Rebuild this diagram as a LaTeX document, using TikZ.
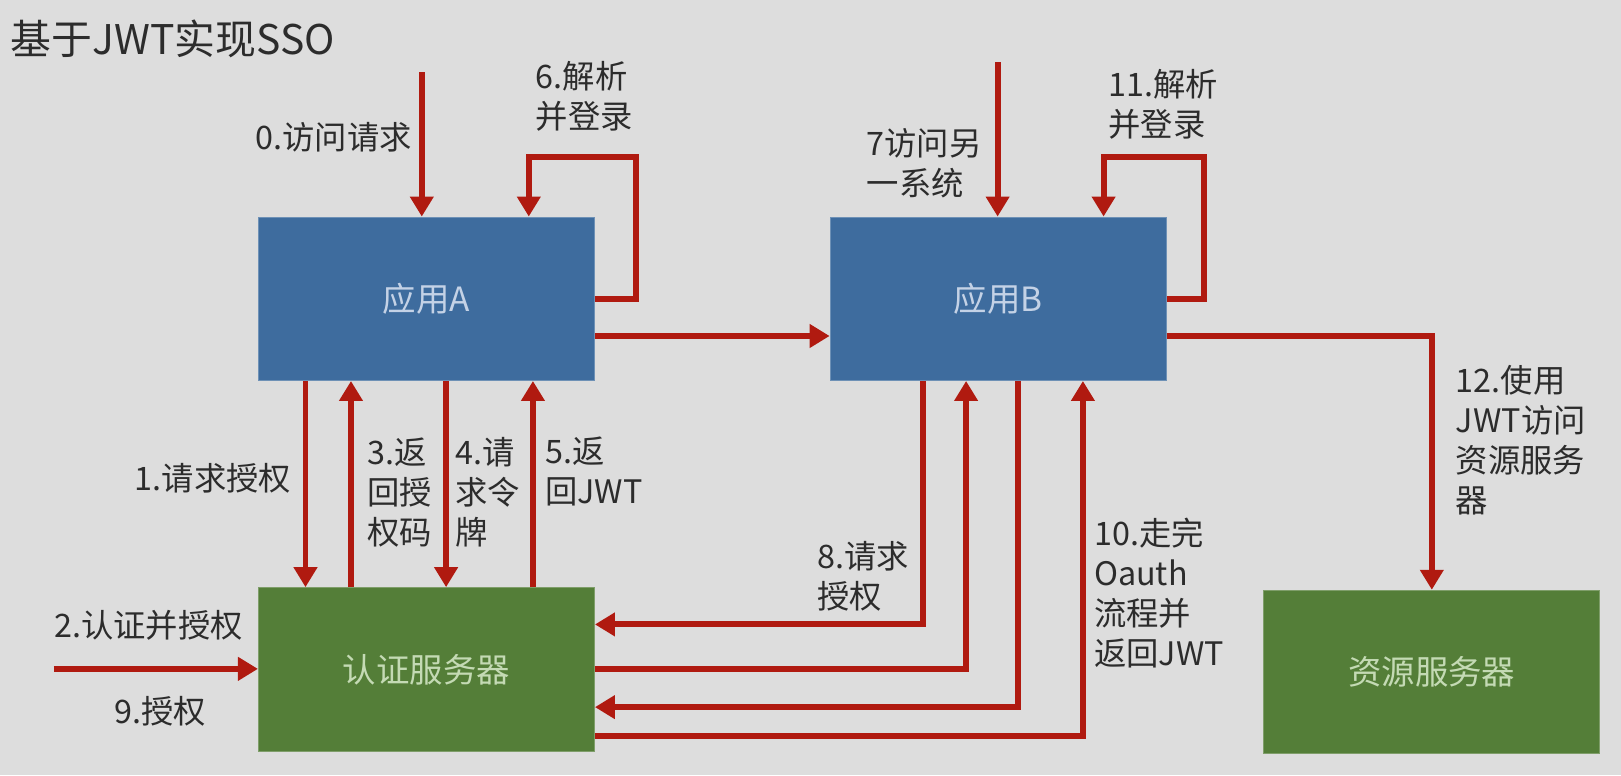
\documentclass[tikz,border=0pt]{standalone}
\usepackage{fontspec}
\setmainfont{Noto Sans CJK SC}
\usetikzlibrary{arrows.meta,calc,positioning}

\definecolor{bgGray}{RGB}{221,221,221}
\definecolor{appBlue}{RGB}{62,108,158}
\definecolor{appText}{RGB}{196,210,230}
\definecolor{srvGreen}{RGB}{84,126,56}
\definecolor{srvText}{RGB}{196,218,180}
\definecolor{flowRed}{RGB}{176,26,16}
\definecolor{txtGray}{RGB}{44,44,44}

\tikzset{
  box/.style={minimum width=6.5cm, minimum height=3.16cm, inner sep=0pt,
    line width=0.6pt, font=\fontsize{18.4}{22}\selectfont},
  app/.style={box, fill=appBlue, draw=appBlue!75!white, text=appText},
  srv/.style={box, fill=srvGreen, draw=srvGreen!75!white, text=srvText},
  flow/.style={draw=flowRed, line width=3.3pt, -{Triangle[width=12.5pt,length=11pt]}},
  lbl/.style={font=\fontsize{17.8}{22}\selectfont, text=txtGray, align=left,
    inner sep=0pt, anchor=west},
}

\begin{document}
\begin{tikzpicture}[x=0.02cm, y=-0.02cm]
    % --- ФОН ---
    \fill[bgGray] (0,0) rectangle (1568,750);
    \useasboundingbox (0,0) rectangle (1568,750);

    % Заголовок
    \node[anchor=west, inner sep=0pt, text=txtGray, font=\fontsize{22.5}{26}\selectfont]
        (title) at (10,38) {基于JWT实现SSO};

    % --- БЛОКИ ---
    \node[app] (appA) at (412.5,289) {应用A};
    \node[app] (appB) at (965.5,289) {应用B};
    \node[srv] (auth) at (412.5,647.5) {认证服务器};
    \node[srv] (res)  at (1385,650) {资源服务器};

    % --- ВХОДЯЩИЕ ЗАПРОСЫ ---
    \coordinate (in0) at (408,70);   % 0. запрос к A
    \coordinate (in7) at (965,60);   % 7. запрос к B
    \coordinate (in2) at (52,647);   % 2. вход на сервер
    \draw[flow] (in0) -- (in0 |- appA.north);
    \draw[flow] (in7) -- (in7 |- appB.north);
    \draw[flow] (in2) -- (in2 -| auth.west);

    % Петли "разбор и вход"
    \draw[flow] (appA.east) -| (615,152) -| ($(appA.north west)+(262,0)$);
    \draw[flow] (appB.east) -| (1165,152) -| ($(appB.north west)+(265,0)$);

    % A -> B, B -> ресурсы
    \draw[flow] ($(appA.east)+(0,36)$) -- ($(appB.west)+(0,36)$);
    \draw[flow] ($(appB.east)+(0,36)$) -| (res.north);

    % --- A <-> СЕРВЕР АВТОРИЗАЦИИ ---
    \coordinate (c1) at ($(appA.south west)+(46,0)$);
    \coordinate (c3) at ($(appA.south west)+(90,0)$);
    \coordinate (c4) at ($(appA.south west)+(182,0)$);
    \coordinate (c5) at ($(appA.south west)+(266,0)$);
    \draw[flow] (c1) -- (c1 |- auth.north);
    \draw[flow] (c3 |- auth.north) -- (c3);
    \draw[flow] (c4) -- (c4 |- auth.north);
    \draw[flow] (c5 |- auth.north) -- (c5);

    % --- B <-> СЕРВЕР АВТОРИЗАЦИИ ---
    \draw[flow] ($(appB.south west)+(90,0)$) |- ($(auth.east)+(0,-43.5)$);
    \draw[flow] (auth.east) -| ($(appB.south west)+(132,0)$);
    \draw[flow] ($(appB.south west)+(182,0)$) |- ($(auth.east)+(0,36.5)$);
    \draw[flow] ($(auth.east)+(0,64.5)$) -| ($(appB.south west)+(245,0)$);

    % --- ПОДПИСИ ---
    \node[lbl] (l0)  at (247,133)  {0.访问请求};
    \node[lbl] (l6)  at (518,93)   {6.解析\\并登录};
    \node[lbl] (l7)  at (838,158)  {7访问另\\一系统};
    \node[lbl] (l11) at (1072,101) {11.解析\\并登录};
    \node[lbl] (l1)  at (130,463)  {1.请求授权};
    \node[lbl] (l3)  at (355,476)  {3.返\\回授\\权码};
    \node[lbl] (l4)  at (440,476)  {4.请\\求令\\牌};
    \node[lbl] (l5)  at (527,456)  {5.返\\回JWT};
    \node[lbl] (l2)  at (52,605)   {2.认证并授权};
    \node[lbl] (l9)  at (110,688)  {9.授权};
    \node[lbl] (l8)  at (790,557)  {8.请求\\授权};
    \node[lbl] (l10) at (1058,574) {10.走完\\Oauth\\流程并\\返回JWT};
    \node[lbl] (l12) at (1408,426) {12.使用\\JWT访问\\资源服务\\器};
\end{tikzpicture}
\end{document}
